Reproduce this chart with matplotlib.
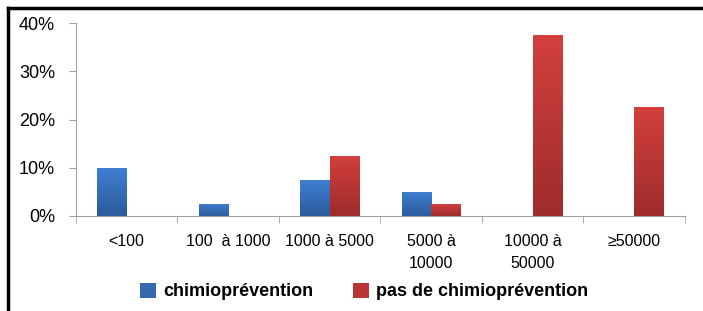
import matplotlib.pyplot as plt
from matplotlib.colors import LinearSegmentedColormap
from matplotlib.lines import Line2D
from matplotlib.patches import Patch
import numpy as np

categories = ['<100', '100  à 1000', '1000 à 5000', '5000 à\n10000', '10000 à\n50000', '≥50000']
chimio = [10.0, 2.5, 7.5, 5.0, 0.0, 0.0]
pas_chimio = [0.0, 0.0, 12.5, 2.5, 37.5, 22.5]
series_names = ['chimioprévention', 'pas de chimioprévention']

plt.rcParams['font.family'] = ['Liberation Sans', 'DejaVu Sans']

fig = plt.figure(figsize=(7.03, 3.11), dpi=100)
ax = fig.add_axes([0.108, 0.3055, 0.866, 0.6205])

x = np.arange(len(categories))
w = 0.29
blue_cmap = LinearSegmentedColormap.from_list('b', ['#2b5c9c', '#3f7fd2'])
red_cmap = LinearSegmentedColormap.from_list('r', ['#9e2c2b', '#d2403e'])
grad = np.linspace(0, 1, 100).reshape(-1, 1)


def draw_bars(pos, vals, cmap):
    bars = ax.bar(pos, vals, w, facecolor='none', edgecolor='none')
    for b, v in zip(bars, vals):
        if v <= 0:
            continue
        im = ax.imshow(grad, extent=[b.get_x(), b.get_x() + w, 0, v],
                       origin='lower', cmap=cmap, aspect='auto', zorder=2)
        im.set_clip_path(b)


draw_bars(x - w / 2, chimio, blue_cmap)
draw_bars(x + w / 2, pas_chimio, red_cmap)

ax.set_xlim(-0.5, len(categories) - 0.5)
ax.set_ylim(0, 40)
ax.set_yticks([0, 10, 20, 30, 40])
ax.set_yticklabels(['0%', '10%', '20%', '30%', '40%'], fontsize=13)
ax.set_xticks(x)
ax.set_xticklabels(categories, fontsize=11.5, linespacing=1.55)
ax.set_xticks(np.arange(len(categories) + 1) - 0.5, minor=True)
ax.tick_params(axis='x', which='major', length=0, pad=13)
ax.tick_params(axis='x', which='minor', length=5, color='#a0a0a0')
ax.tick_params(axis='y', length=5, color='#a0a0a0', pad=10)
for s in ['top', 'right']:
    ax.spines[s].set_visible(False)
for s in ['left', 'bottom']:
    ax.spines[s].set_color('#a0a0a0')

handles = [Patch(facecolor='#3468b0'), Patch(facecolor='#b83534')]
fig.legend(handles, series_names, loc='center', bbox_to_anchor=(0.518, 0.063),
           ncol=2, frameon=False, prop={'weight': 'bold', 'size': 13},
           handlelength=0.9, handleheight=0.9, handletextpad=0.4, columnspacing=2.2)

# outer border (left and top only)
fig.add_artist(Line2D([0.0118, 0.0118], [0, 0.975], transform=fig.transFigure, color='black', lw=2.5))
fig.add_artist(Line2D([0.0118, 1], [0.975, 0.975], transform=fig.transFigure, color='black', lw=2.5))

fig.savefig('out.png', dpi=100)
